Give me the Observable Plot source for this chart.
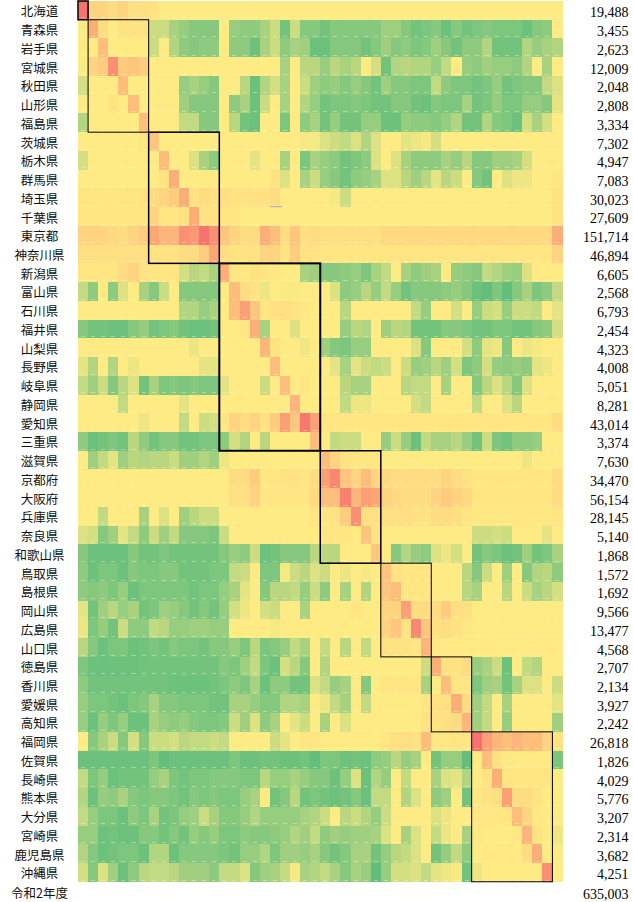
<!DOCTYPE html>
<html lang="ja"><head><meta charset="utf-8">
<script src="https://cdn.jsdelivr.net/npm/d3@7"></script>
<script src="https://cdn.jsdelivr.net/npm/@observablehq/plot@0.6"></script>
<style>html,body{margin:0;padding:0;background:#fff;overflow:hidden}svg{display:block}</style>
</head><body><div id="chart"></div>
<script>
const prefectures=["北海道","青森県","岩手県","宮城県","秋田県","山形県","福島県","茨城県","栃木県","群馬県","埼玉県","千葉県","東京都","神奈川県","新潟県","富山県","石川県","福井県","山梨県","長野県","岐阜県","静岡県","愛知県","三重県","滋賀県","京都府","大阪府","兵庫県","奈良県","和歌山県","鳥取県","島根県","岡山県","広島県","山口県","徳島県","香川県","愛媛県","高知県","福岡県","佐賀県","長崎県","熊本県","大分県","宮崎県","鹿児島県","沖縄県"];
const totals=["19,488","3,455","2,623","12,009","2,048","2,808","3,334","7,302","4,947","7,083","30,023","27,609","151,714","46,894","6,605","2,568","6,793","2,454","4,323","4,008","5,051","8,281","43,014","3,374","7,630","34,470","56,154","28,145","5,140","1,868","1,572","1,692","9,566","13,477","4,568","2,707","2,134","3,927","2,242","26,818","1,826","4,029","5,776","3,207","2,314","3,682","4,251"];
const footerLabel="令和2年度", footerTotal="635,003";
// Colour index: -9 = deepest green, 0 = yellow, +8.5 = deepest red
const hokkaido=[8,1.5,1.5,1,1.5,.8,.8,.5, 0,0,0,0,0,0,0,0, 0,0,0,0,0,0,0,0, 0,0,0,0,0,0,0,0, 0,0,0,0,0,0,0,0, 0,0,0,0,0,0,0,0];
const aomori=[0,4,1,0,.5,.5,.5,-3, -3,-5,-6,-7,-7,-7,0,-6, -6.5,-6.5,-5,-3,-8,-3,-7,-7, -8,-7,-7,-7,-7,-7,-5.5,-5.5, -7,-8,-7.5,-7,-8.5,-7,-8,-7.5, -7,-7.5,-7.5,-7.5,-8.5,-7,-6.5,0];
const iwate=[0,0,3,0,0,0,0,-3, 0,-4.5,-6.5,-7,-6.5,-6.5,0,-6.5, -6.5,-8.5,-5,-3,-6.5,-5,-5.5,-8.5, -8.5,-7,-7,-7,-8,-7,-5.5,-7, -6.5,-7.5,-7,-5.5,-7,-8,-6.5,-6.5, -4.5,-8,-8,-8,-4.5,-6,-5,-4.5];
const miyagi=[0,1.5,2,6,2,2.5,2,0, 0,0,0,0,0,0,0,0, 0,0,0,0,-5,0,-4,-4, -6,-4,-5,-4,0,-2.5,-8,-4.5, -4,-4.5,-4.5,-6,-3.5,0,-6,-6.5, -5.5,-6,-6,-6.5,-4.5,0,-5,0];
const akita=[-2.5,0,0,0,3,0,0,0, 0,0,-6,-5,-6,-7,0,0, -4,-8.5,-4.5,-2.5,-5,0,-3,-5.5, -6.5,-6,-7,-6,-7,-8,-5.5,-7, -7,-7.5,-7.5,-3.5,-6.5,-7.5,-7.5,-8, -7.5,-6,-8,-7.5,-7,-7,-3.5,-2];
const yamagata=[0,0,0,.5,0,3,0,0, 0,0,-5.5,-7,-7,-7,0,-6.5, -5,-8.5,-3,0,-5,0,-4.5,-6, -8,-7.5,-7.5,-7,-7.5,-8,-8,-7, -7,-8,-8.5,-7,-7.5,-7.5,-5,-8, -7.5,-6,-7.5,-7.5,-6,-6,-7,-1.5];
const fukushima=[-4.5,0,0,0,0,0,3,0, 0,0,-3.5,-3.5,-7,-7,0,-4, -8,-8.5,0,0,-7.5,0,-6.5,-5, -8,-6,-8,-8,-6,-6,-8.5,-8.5, -6,-6.5,-6.5,-7,-6,-4.5,-8,-8, -4.5,-7,-7.5,-8.5,-2.5,-5,-2.5,0];
const ibaraki=[0,0,0,0,0,0,.3,2.5, 0,0,0,0,0,0,0,0, 0,0,0,0,0,0,-.5,-.5, -2,-3,-3.5,-2,-4.5,-2,0,0, -1.5,-1,-.5,-2.5,0,0,0,0, 0,0,0,0,0,0,0,0];
const tochigi=[-2.5,0,0,0,0,0,0,0, 3,0,0,-2,-5,-6.5,0,0, 0,-1.5,0,0,-5,0,-7.5,-5, -6,-6.5,-8,-7.5,-6.5,-2,0,-2, -5,-6.5,-6.5,-6.5,-5,-6,-4,-7, -7,-5.5,-5.5,-5,-2.5,0,0,0];
const gunma=[0,0,0,0,0,0,0,0, .5,4,0,0,0,0,0,0, 0,0,0,.5,-2,0,-5,-3, -6,-7,-8,-6.5,-6,-5,-2,-2, -4,-5.5,-4,-1.5,-4,-3,0,-7, -8,0,-2,-1,-1,0,0,.3];
const saitama=[.3,.3,.3,.3,.3,.3,.5,1, 1.5,2,4,.5,1,.5,.8,.5, .5,.5,.5,1,0,0,0,0, 0,-.5,-3,0,0,0,0,0, 0,0,0,0,0,0,0,0, 0,0,0,0,0,0,0,.5];
const chiba=[.3,.3,.3,.3,.3,.3,.3,1.5, .3,.3,.5,4,.5,.5,.3,.3, 0,0,0,0,0,0,0,0, 0,0,0,0,0,0,0,0, 0,0,0,0,0,0,0,0, 0,0,0,0,0,0,0,.5];
const tokyo=[1.5,1.5,1.5,1.2,1,1.5,2,4.5, 3.5,3.5,6,5.5,8,6,2.5,1.5, 1,1,4,3,1,2.5,.8,1, .7,.7,.7,.7,.7,.7,1.2,1.2, 1.2,1.2,1.2,1.2,1.2,1.2,1.2,1.2, 1.2,1.2,1.2,1.2,1.2,1.2,1.2,4];
const kanagawa=[.8,.8,.8,.8,.8,.8,.8,.5, .5,.5,1,1,2,4.5,.8,.5, .5,.5,1.5,1.5,.5,2,.5,.5, .3,.3,.3,.3,.3,.3,.3,.3, .3,.3,.3,.3,.3,.3,.3,.3, .3,.3,.3,.3,.3,.3,.3,1.5];
const niigata=[.3,.3,.3,.3,1,1.5,.5,.3, .3,.3,-2.5,-4,-3.5,-5,4,.3, .2,.5,.3,.2,0,0,-5,-5.5, -7,-7,-6.5,-6,-7.5,-5,-3.5,0, -5,-6.5,-5.5,-5,0,-6,-6.5,-7, -3.5,-4.5,-5.5,-6,-2,0,0,0];
const toyama=[-3.5,-6.5,0,-6.5,-2,0,-5,-7, -3,0,-7,-7,-7,-7,0,3, 1,.5,-1,0,-.3,-.3,0,0, 0,-2,-6.5,-6,-4,-6,-3.5,-6, -8,-7,-7,-7,-6.5,-6,-7,-8.5, -9,-7.5,-9,-7,-5,-7.5,-6.5,-3.5];
const ishikawa=[0,0,0,0,0,0,0,0, 0,0,-4.5,-4.5,-6,-5,0,3, 5,2.5,.3,.5,.7,.5,.2,0, 0,0,-4,0,0,0,0,0, 0,-3.5,-6,0,0,-2.5,0,-6, -3,-2.5,-6,-3,-3,-3.5,0,-1.5];
const fukui=[-7,-8,-8,-8.5,-8.5,-7,-6,-8, -7.5,-7,-8,-8.5,-8.5,-8,0,0, .3,4,-5,0,0,-2,0,0, 0,0,-6,-4,-4.5,0,-5.5,-4, -4.5,-8,-8,-8,-7,-7,-7.5,-8, -8,-7.5,-7.5,-8,-8,-7,-6.5,-2.5];
const yamanashi=[0,0,0,0,0,0,0,0, 0,0,0,-1,0,0,0,0, 0,0,3.5,.5,0,0,-.8,0, -5.5,-7,-7.5,-6,-6,0,0,0, 0,-2,-7,0,0,0,-2.5,-6.5, -1.5,-1,-7,0,-1,-.5,0,0];
const nagano=[-1.5,-4.5,0,-4.5,0,-1,0,0, 0,0,0,0,-1.5,-1.5,0,0, 0,0,0,3,0,0,0,0, 0,-1.5,-5,-1.5,-3,-3.5,-3,0, -3,-6,-5.5,-4,-5.5,-2.5,-7.5,-6.5, -2.5,-6,-6.5,-6,-6.5,-1.5,-1,0];
const gifu=[-3.5,-5.5,-3,-7,-4,-2,-8,-5, -7.5,-7,-7.5,-7,-7.5,-7.5,-1.5,0, 0,0,-3,0,3,0,.3,0, 0,0,-4,-5,-5,0,0,0, -4,-3.5,-3.5,0,-5,0,0,-7, -4,-2,-4,-7,-2,0,0,0];
const shizuoka=[0,0,0,0,-3.5,0,0,0, 0,0,-1.5,0,0,0,0,0, 0,0,0,0,0,3.5,0,0, 0,0,-3.5,-1,-1,0,0,0, 0,-2.5,-3.5,0,0,0,0,-3.5, 0,0,-2,-4,0,0,0,0];
const aichi=[0,0,0,0,0,0,-1,0, 0,0,-3.5,0,-3,-2.5,.3,1.5, 1,1.5,.5,2,5,2.5,7.5,5, .3,.3,.3,.3,.3,.3,.3,.3, .3,.3,.3,.3,.3,.3,.3,.3, .3,.3,.3,.3,.3,.3,.3,1];
const mie=[-6.5,-8.5,-8,-7.5,-8,-4,-6.5,-8, -7,-7,-8,-8,-7.5,-7.5,-6.5,-2.5, -4.5,0,-4,0,0,0,0,3, 0,-3.5,-3,-3,0,0,-6,-3, -6,-8.5,-3.5,-5,-5,-4,-6,-8, -3,-7.5,-8,-6.5,-6.5,-6,0,0];
const shiga=[0,-5.5,-3.5,-1.5,-5.5,-4,-4.5,-4, -4,-3,-5.5,-5.5,-4.5,-5.5,-1,0, 0,0,0,0,0,0,0,0, 3,1.5,.5,.3,.3,.3,0,0, 0,0,0,0,0,0,0,0, 0,0,0,0,-1,0,0,0];
const kyoto=[0,0,0,0,0,0,0,0, 0,0,0,0,0,0,0,1, 1,2,.3,.3,.5,.5,.3,1, 5,6.5,2.5,1.5,3,1.5,1.2,1, 1,1,1,1,1.5,1,.5,.3, .3,.3,.3,.3,.3,.3,.3,1];
const osaka=[0,0,0,0,0,0,0,0, 0,0,0,0,0,0,0,.8, .8,1.5,.3,.3,.3,.3,.3,1.2, 3,3,7,3.5,5,4.5,1.5,1.2, 1,1,1,1.5,2,1.5,1.2,.3, .3,.3,.3,.3,.3,.3,.3,1];
const hyogo=[0,0,-3.5,0,0,0,-5,0, -2,0,-5.5,-4,-3,-3,0,0, 0,0,0,0,0,0,0,.3, .3,.5,2,6,.8,.8,.8,.8, .7,.5,.5,1,1,.8,.3,.2, .2,.2,.2,.2,.2,.2,.2,.3];
const nara=[-2,-2.5,-7,-5.5,-1.5,-3.5,-6.5,-3, -5.5,-3.5,-7,-7,-7,-7.5,-3,0, 0,0,0,0,0,0,0,0, .3,.3,.3,0,2.5,.5,0,0, 0,0,0,0,0,0,0,-3, -3,-2.5,-3,0,0,0,-1.5,0];
const wakayama=[-7,-8.5,-8.5,-8.5,-8.5,-7,-8,-8, -7.5,-8,-8,-8,-8,-8,-7,-6, -6.5,-3,-8.5,-8,-7,-7,-7,-4, -4,-4,0,0,0,2.5,0,-7, -4.5,-6,-6.5,-2,-1,-2.5,0,-8, -7,-7.5,-8.5,-8,-5.5,-8,-7.5,-5];
const tottori=[-6.5,-8.5,-7.5,-7.5,-8.5,-7,-7.5,-7.5, -7,-7,-8,-8,-8,-7.5,-7.5,-3.5, -3,0,-7.5,-7.5,-.5,-3,-4,-2, -3,0,-1,0,-.5,0,2.5,.5, .3,.3,.3,0,0,0,-4,-7, -3,0,-5.5,0,-7,-4.5,-4,-6.5];
const shimane=[-6.5,-7,-6.5,-7.5,-6,-8.5,-7.5,-7.5, -7.5,-7.5,-7.5,-8,-7.5,-7.5,-6,-5, -1.5,0,-7,-4,-4,-3.5,-6,-3, -6.5,0,-5,0,-4.5,0,2.5,3, .3,.3,.3,0,0,0,-4,-5, 0,0,-4,0,-3,-5,-4,-2.5];
const okayama=[-1.5,-8,-5.5,-4,-6,-5,-8,-7.5, -5.5,-6,-7,-8,-7,-8,-6,-2.5, -1,0,-2.5,-3,0,0,-5,0, 0,0,0,.3,0,0,1.5,1.5, 5,1,1,1,2,.8,.8,0, 0,0,0,0,0,0,0,0];
const hiroshima=[-1,-7.5,-6,-8,-3,-6.5,-6.5,-3.5, -4,-6,-6,-5.5,-5.5,-6,-6,0, 0,0,0,-.5,0,0,0,0, 0,0,0,0,0,0,1.5,2.5, .5,6.5,2.5,.5,1,.5,.2,0, 0,0,0,0,0,0,0,0];
const yamaguchi=[-4,-7,-8.5,-7.5,-7.5,-8.5,-8,-7.5, -8,-7,-7.5,-7.5,-8,-7,-7,-6, -7.5,-4,-7.5,-7,-6,-3.5,-5,0, -3.5,0,-4,0,-3.5,0,.5,.5, .5,.3,3.5,.1,.1,.1,.1,.1, .1,.1,.1,.1,.1,.1,.1,.1];
const tokushima=[-7.5,-8.5,-8.5,-8.5,-8.5,-8.5,-8,-8, -8,-8,-8,-8,-8,-8,-7,-7.5, -5.5,-3.5,-7.5,-8.5,-2.5,-4,-7,0, -4.5,0,0,0,0,0,0,0, 0,0,-3,4,.5,.5,1,-6, -5,-3,-8.5,0,-3.5,-4.5,0,0];
const kagawa=[-6.5,-8,-8,-8,-8,-8,-8,-8, -8,-8.5,-8.5,-8.5,-8.5,-8,-7.5,-6.5, -7.5,-5,-8.5,-6.5,-6.5,-8,-8,-2, -3.5,-6,-5,0,-7,0,.3,.3, .3,.3,-5,0,3,.3,.3,-7.5, -5.5,-5,-8,-5,-2,-2,0,-3];
const ehime=[-6,-7.5,-7.5,-8,-8.5,-7.5,-7,-5, -7,-7,-7.5,-7.5,-7.5,-8,-8,-5, -5,-6,-7,-7,-4.5,-4.5,-5,0, -1,-3.5,-5,0,-3.5,0,0,0, 0,0,.3,.5,.8,4,1,-5.5, -3.5,0,-5,0,0,0,0,-1.5];
const kochi=[-6,-8.5,-6,-7.5,-6,-8.5,-8.5,-5, -6,-6.5,-6,-7,-7.5,-7.5,-7,-3, -5.5,-2,-6.5,-5,0,-1.5,-3,0, -5,0,-2,0,0,0,0,0, 0,0,.5,.5,.8,1,3.5,-5.5, -3.5,0,-6,0,0,0,0,-5.5];
const fukuoka=[0,-7,-5,-3,-7,-2.5,-7,-3, -3,-2.5,-4,-3.5,-3.5,-3,-3.5,0, 0,0,0,-3,-1.5,0,.3,.3, 0,0,0,0,0,0,.3,.8, .8,.5,3,.2,.2,.3,.3,8, 5,3.5,3,3.5,3,3,1.5,.5];
const saga=[-8.5,-8.5,-8.5,-8.5,-8.5,-8.5,-8.5,-7.5, -9,-8.5,-8.5,-8.5,-8.5,-8.5,-8.5,-7.5, -8.5,-8.5,-8,-8,-8.5,-8.5,-8,-9, -7.5,-7.5,-8.5,-8,-8.5,-6.5,-6,-4, -6,-5,0,-8,-6,-6,-9,0, 3,.8,.1,.1,.1,.1,.1,-7.5];
const nagasaki=[-3.5,-7.5,-6,-8.5,-8,-8,-8,-6, -5,-7.5,-8,-7.5,-7.5,-7,-7,-7, -7.5,-7.5,-4,-6,-6,-5,-6,-7, -7,-8.5,-6,-2,-8.5,-4.5,-6,0, -3.5,0,0,-5,-2,-1.5,-4.5,0, .5,4,.3,.3,.3,.3,.3,0];
const kumamoto=[-4.5,-8.5,-6,-6.5,-5,-7,-7.5,-7, -7,-7.5,-8,-7,-7.5,-7,-7.5,-7.5, -6,-5,0,-8,-7,-4,-8,-7.5, -8,-8.5,-8,-7,-8.5,-3.5,-3.5,0, -4.5,-2,0,-6.5,-5.5,0,-8,.2, .5,.8,5,1,1,.5,0,0];
const oita=[-3.5,-6,-7.5,-7.5,-8.5,-6.5,-7.5,-5, -8,-7.5,-6,-5.5,-3,-5,-7,-7, -6,-4.5,-6,-6,-6,-6,-5,-4.5, -3,0,-4,-3,-4.5,-6,-3,0, 0,0,0,-2,-1,0,0,.2, .2,.2,.3,3,1.5,.2,0,0];
const miyazaki=[-6,-6,-8.5,-8,-8.5,-8.5,-7,-7, -8,-7,-8,-6,-7,-6,-7.5,-7.5, -6.5,-7,-7,-6.5,-6,-4.5,-5.5,-3.5, -6.5,-5.5,-6,-5.5,-5.5,-5,-2,0, -5,-2,0,-3.5,-1,0,-5,.2, 0,0,0,.2,3.5,.5,0,-1];
const kagoshima=[-4.5,-7,-8.5,-8,-7.5,-7.5,-8.5,-4.5, -4.5,-8.5,-7,-7,-7,-7,-7.5,-8, -6,-6,-4.5,-7.5,-5.5,-5.5,-6,-5, -7,-8,-7,-5,-5,-8,-6,-4, -3.5,-2,0,-8,-6,-3.5,-6.5,0, .1,.1,.1,.1,1,4,0,0];
const okinawa=[-2.5,-7,-2,-5.5,-8.5,-6.5,-4,-3.5, -3.5,-4,-5.5,-5.5,-5.5,-6.5,-3.5,-3.5, -2,-7,-5.5,-5,-3.5,-.5,-5,-4.5, -3.5,-5,-7,-5,-6,-9,-6,-2.5, -2.5,-2,-3.5,-1.5,-1,-.3,-8,-1, 0,0,0,0,0,0,6,0];
const matrix=[hokkaido,aomori,iwate,miyagi,akita,yamagata,fukushima,ibaraki,tochigi,gunma,saitama,chiba,tokyo,kanagawa,niigata,toyama,ishikawa,fukui,yamanashi,nagano,gifu,shizuoka,aichi,mie,shiga,kyoto,osaka,hyogo,nara,wakayama,tottori,shimane,okayama,hiroshima,yamaguchi,tokushima,kagawa,ehime,kochi,fukuoka,saga,nagasaki,kumamoto,oita,miyazaki,kagoshima,okinawa];
// Region blocks: [first prefecture index, index after last, line weight]
const regionStart=[0,1,7,14,24,30,35,39];
const regionEnd=[1,7,14,24,30,35,39,47];
const regionWeight=[1.5,1,1.5,2,1.5,1,1,1];

const cells=matrix.flatMap((row,r)=>row.map((v,c)=>({r,c,v})));
const regions=regionStart.map((s,i)=>({s,e:regionEnd[i],w:regionWeight[i]}));
const rowsIdx=prefectures.map((p,i)=>({p,i,t:totals[i]}));
const serif='"Liberation Serif",serif', cjk='"Noto Sans CJK JP",sans-serif';

const chart=Plot.plot({
  width:633,height:902,marginTop:1,marginBottom:1.5,marginLeft:78,marginRight:70.5,
  x:{domain:[0,48],axis:null},
  y:{domain:[0,48],range:[1,900.5],axis:null},
  color:{type:"linear",domain:[-9,0,8.5],range:["#63BE7B","#FFEB84","#F8696B"],interpolate:"rgb"},
  marks:[
    Plot.rect(cells,{x1:"c",x2:d=>d.c+1,y1:"r",y2:d=>d.r+1,fill:"v",shapeRendering:"crispEdges"}),
    Plot.ruleY(cells,{y:d=>d.r+.88,x1:d=>d.c+.3,x2:d=>d.c+.7,stroke:"#fff",strokeOpacity:.35,strokeWidth:1,shapeRendering:"crispEdges"}),
    Plot.ruleY([10.95],{x1:19.05,x2:20.2,stroke:"#a8a8c4",strokeWidth:1}),
    ...regions.map(g=>Plot.rect([g],{x1:"s",x2:"e",y1:"s",y2:"e",fill:"none",stroke:"#000",strokeWidth:g.w})),
    Plot.text(rowsIdx,{y:d=>d.i+.5,text:"p",frameAnchor:"left",textAnchor:"middle",dx:-39,dy:1.5,fontSize:12.5,fontFamily:cjk,fill:"#111"}),
    Plot.text(rowsIdx,{y:d=>d.i+.5,text:"t",frameAnchor:"right",textAnchor:"end",dx:65.5,dy:2,fontSize:14,fontFamily:serif,fill:"#000"}),
    Plot.text([footerLabel],{y:()=>47.55,text:d=>d,frameAnchor:"left",textAnchor:"middle",dx:-39,dy:1.5,fontSize:12.5,fontFamily:cjk,fill:"#111"}),
    Plot.text([footerTotal],{y:()=>47.55,text:d=>d,frameAnchor:"right",textAnchor:"end",dx:65.5,dy:2,fontSize:14,fontFamily:serif,fill:"#000"})
  ]
});
document.getElementById("chart").appendChild(chart);
</script>
</body></html>
